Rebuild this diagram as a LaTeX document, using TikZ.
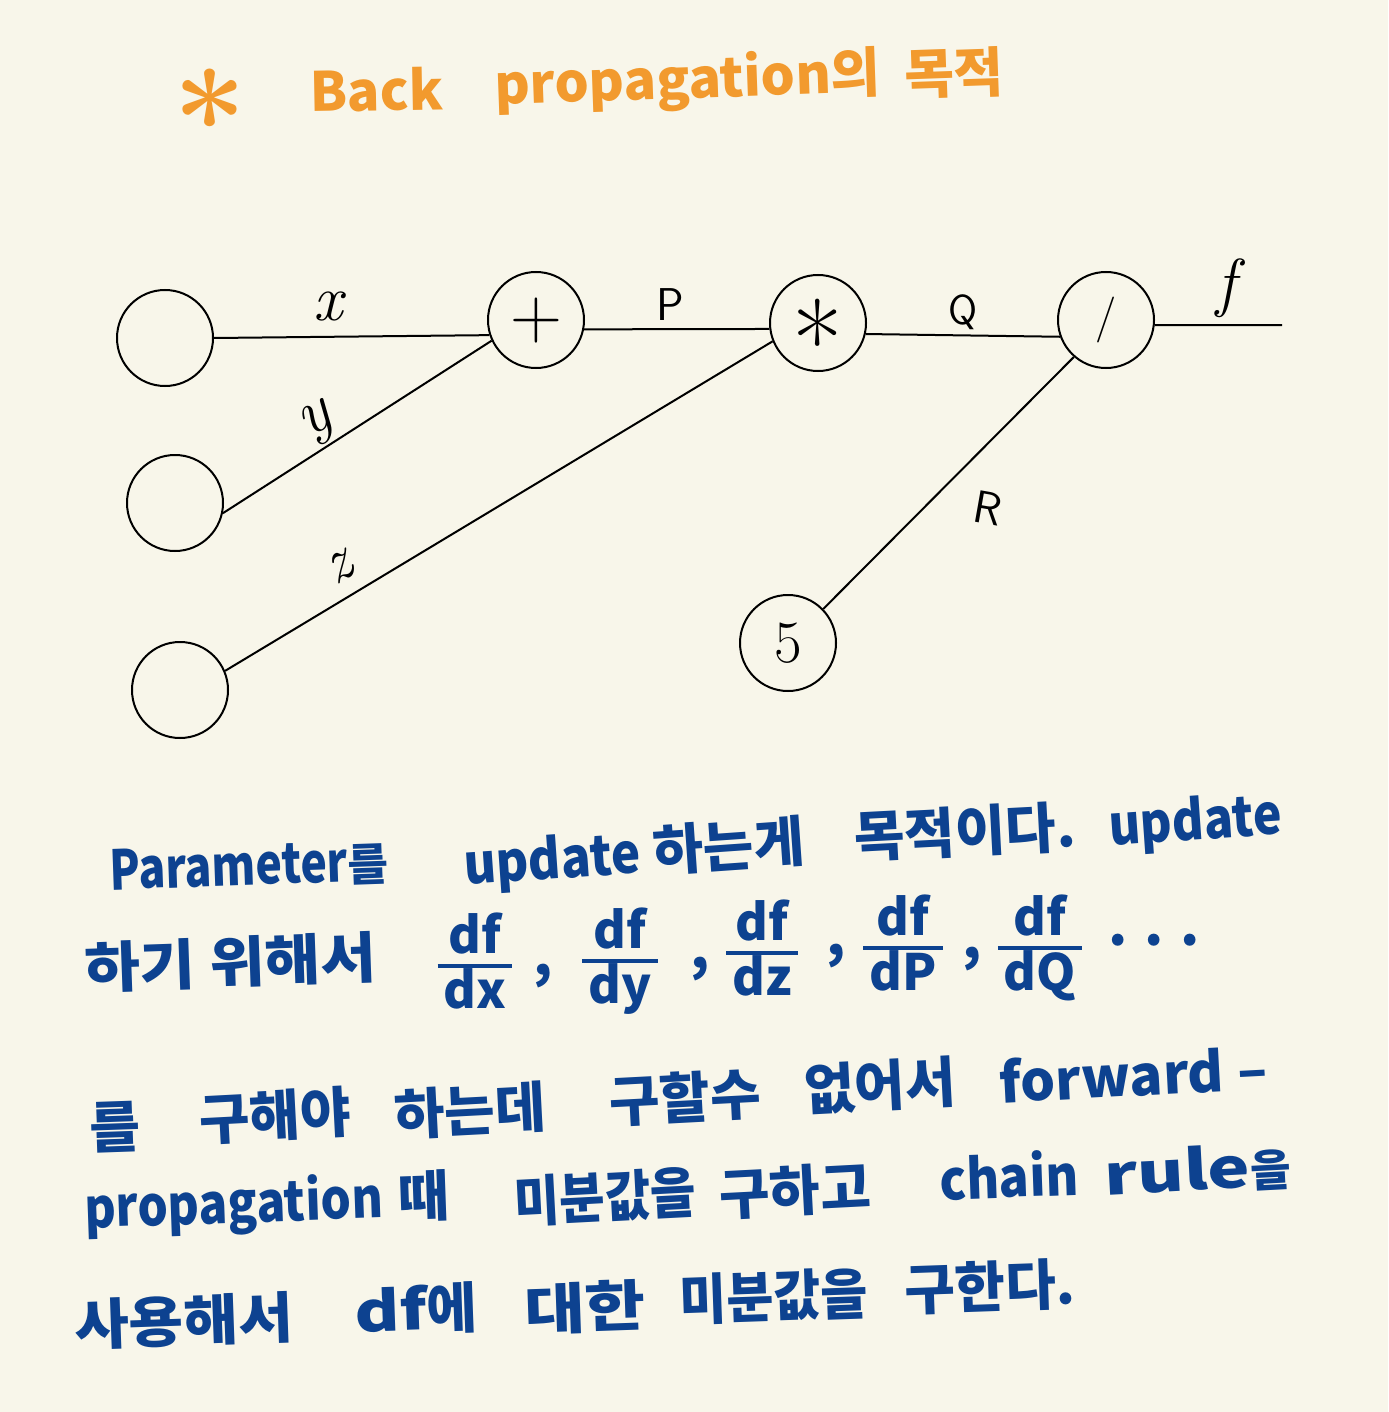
\documentclass[tikz,border=0pt]{standalone}
\usepackage{fontspec}
\setmainfont{Noto Sans CJK KR}
\newfontfamily\lmr{Latin Modern Roman}
\newfontfamily\lms{Latin Modern Sans}
\definecolor{bgc}{HTML}{F8F6EA}
\definecolor{ink}{HTML}{0D4290}
\definecolor{orng}{HTML}{F29A2E}
\setlength\arrayrulewidth{4pt}
\newcommand\sx[2]{\scalebox{#1}[1]{#2}}
\newcommand\dfrac[1]{\begin{tabular}{@{\hspace{6pt}}c@{\hspace{6pt}}}df\\[-4pt]\hline #1\end{tabular}}
\begin{document}
\begin{tikzpicture}[x=1pt,y=-1pt,
  gnode/.style={circle,draw=black,line width=2pt,minimum size=96pt,inner sep=0pt,text height=0pt,text depth=0pt},
  edge/.style={line width=2pt,black},
  lbl/.style={inner sep=0pt,black},
  hw/.style={text=ink,inner sep=0pt,anchor=base west,font=\fontsize{55}{58}\selectfont\bfseries},
  ttl/.style={text=orng,inner sep=0pt,anchor=base west,font=\fontsize{54}{58}\selectfont\bfseries},
  fracn/.style={text=ink,inner sep=0pt,font=\fontsize{50}{50}\selectfont\bfseries}]
\fill[bgc] (0,0) rectangle (1388,1412);
\useasboundingbox (0,0) rectangle (1388,1412);

% title
\node[text=orng,inner sep=0pt,text height=0pt,text depth=0pt,font=\fontsize{130}{130}\selectfont\lmr\bfseries] (star) at (210,98) {\raisebox{-0.53em}{*}};
\node[ttl,rotate=1] (tback) at (310,112) {Back};
\node[ttl,rotate=2] (tprop) at (495,105) {propagation의};
\node[ttl,rotate=2] (tgoal) at (905,95) {목적};

% graph nodes
\node[gnode] (A) at (165,338) {};
\node[gnode] (B) at (175,503) {};
\node[gnode] (C) at (180,690) {};
\node[gnode,font=\fontsize{72}{72}\selectfont\lmr] (plus) at (536,320) {\raisebox{-0.25em}{+}};
\node[gnode,font=\fontsize{110}{110}\selectfont\lmr] (times) at (818,323) {\raisebox{-0.53em}{*}};
\node[gnode,font=\fontsize{46}{46}\selectfont\lmr] (div) at (1106,320) {\raisebox{-0.25em}{/}};
\node[gnode,font=\fontsize{60}{60}\selectfont\lmr] (five) at (788,643) {\raisebox{-0.33em}{5}};
\coordinate (fend) at (1282,325);

% edges
\draw[edge] (A.east) -- (plus.198);
\draw[edge] (B.-12) -- (plus.205);
\draw[edge] (C.23) -- (times.202);
\draw[edge] (plus.-11) -- (times.187);
\draw[edge] (times.-13) -- (div.200);
\draw[edge] (five.44) -- (div.229);
\draw[edge] (div.-6) -- (fend);

% edge labels
\node[lbl,font=\fontsize{65}{65}\selectfont\lmr\itshape] (lx) at (328,306) {x};
\node[lbl,rotate=30,font=\fontsize{65}{65}\selectfont\lmr\itshape] (ly) at (318,424) {y};
\node[lbl,rotate=30,font=\fontsize{62}{62}\selectfont\lmr\itshape] (lz) at (340,568) {z};
\node[lbl,font=\fontsize{46}{46}\selectfont\lms] (lp) at (670,305) {P};
\node[lbl,font=\fontsize{42}{42}\selectfont\lms] (lq) at (963,312) {Q};
\node[lbl,rotate=-10,font=\fontsize{46}{46}\selectfont\lms] (lr) at (988,508) {R};
\node[lbl,font=\fontsize{65}{65}\selectfont\lmr\itshape] (lf) at (1226,288) {f};

% line 1
\node[hw,rotate=2] (w1) at (110,890) {\sx{0.81}{Parameter}{\fontsize{44}{44}\selectfont 를}};
\node[hw,rotate=4] (w2) at (465,885) {\sx{0.9}{update} 하는게};
\node[hw,rotate=3] (w3) at (855,858) {목적이다.};
\node[hw,rotate=4] (w4) at (1110,846) {\sx{0.88}{update}};

% line 2
\node[hw,rotate=2] (w5) at (85,988) {\sx{1.1}{하기 위해서}};
\node[fracn] (fx) at (475,968) {\dfrac{dx}};
\node[fracn] (fy) at (620,963) {\dfrac{dy}};
\node[fracn] (fz) at (762,955) {\dfrac{dz}};
\node[fracn] (fp) at (903,950) {\dfrac{dP}};
\node[fracn] (fq) at (1040,950) {\dfrac{dQ}};
\node[hw] (c1) at (533,975) {,};
\node[hw] (c2) at (690,968) {,};
\node[hw] (c3) at (826,955) {,};
\node[hw] (c4) at (962,958) {,};
\node[hw] (dots) at (1108,945) {. . .};

% line 3
\node[hw,rotate=2] (w6) at (90,1148) {를};
\node[hw,rotate=3] (w7) at (200,1140) {구해야};
\node[hw,rotate=3] (w8) at (395,1135) {하는데};
\node[hw,rotate=3] (w9) at (610,1122) {구할수};
\node[hw,rotate=3] (w10) at (805,1110) {없어서};
\node[hw,rotate=3] (w11) at (1000,1103) {forward\hspace{14pt}–};

% line 4
\node[hw,rotate=2] (w12) at (85,1228) {\sx{0.87}{propagation}\hspace{16pt}때};
\node[hw,rotate=3] (w13) at (515,1222) {\sx{0.9}{미분값을}};
\node[hw,rotate=3] (w14) at (720,1215) {구하고};
\node[hw,rotate=2] (w15) at (940,1200) {\sx{0.91}{chain}};
\node[hw,rotate=3] (w16) at (1105,1195) {\sx{1.3}{rule}{\fontsize{44}{44}\selectfont 을}};

% line 5
\node[hw,rotate=2] (w17) at (75,1345) {\sx{1.08}{사용해서}};
\node[hw,rotate=2] (w18) at (355,1332) {\sx{1.25}{df}에};
\node[hw,rotate=2] (w19) at (525,1330) {\sx{1.2}{대한}};
\node[hw,rotate=2] (w20) at (680,1320) {\sx{0.93}{미분값을}};
\node[hw,rotate=2] (w21) at (905,1310) {구한다.};
\end{tikzpicture}
\end{document}
